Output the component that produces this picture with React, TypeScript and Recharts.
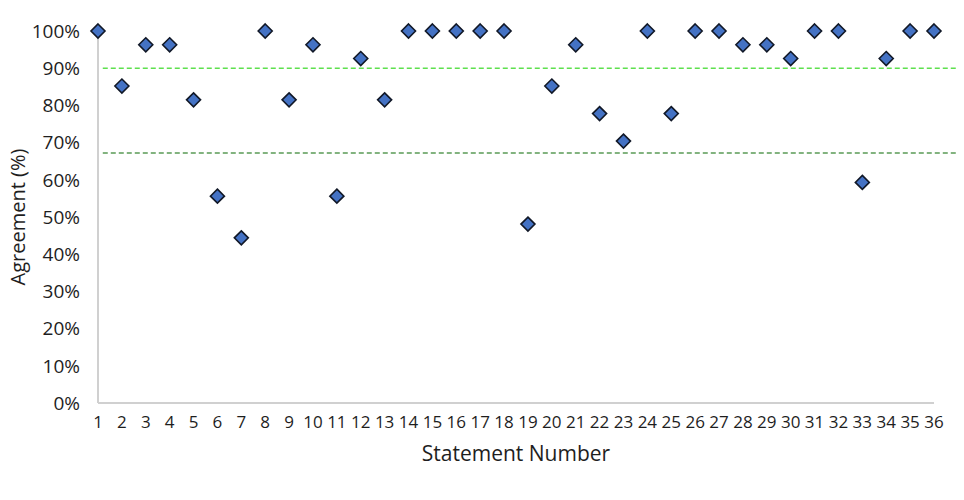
import React from "react";
import { ScatterChart, Scatter, XAxis, YAxis, ReferenceLine } from "recharts";

const statements = [1,2,3,4,5,6,7,8,9,10,11,12,13,14,15,16,17,18,19,20,21,22,23,24,25,26,27,28,29,30,31,32,33,34,35,36];
const agreement = [100,85.2,96.3,96.3,81.5,55.6,44.4,100,81.5,96.3,55.6,92.6,81.5,100,100,100,100,100,48.1,85.2,96.3,77.8,70.4,100,77.8,100,100,96.3,96.3,92.6,100,100,59.3,92.6,100,100];
const yTicks = [0,10,20,30,40,50,60,70,80,90,100];
const upperThreshold = 90;
const lowerThreshold = 67.2;

const data = statements.map((s, i) => ({ x: s, y: agreement[i] }));

const FONT = "'Open Sans', sans-serif";
const TEXT = "#1e1e1e";

const Diamond = (props: any) => {
  const { cx, cy } = props;
  const r = 7;
  return (
    <polygon
      points={`${cx},${cy - r} ${cx + r},${cy} ${cx},${cy + r} ${cx - r},${cy}`}
      fill="#4472C4"
      stroke="#111827"
      strokeWidth={1.6}
    />
  );
};

const YTitle = (props: any) => {
  const vb = props.viewBox || {};
  const x = 17;
  const y = (vb.y ?? 31) + (vb.height ?? 372) / 2;
  return (
    <text x={x} y={y} transform={`rotate(-90 ${x} ${y})`} textAnchor="middle" dominantBaseline="central" fill={TEXT} fontFamily={FONT} fontSize={20}>
      Agreement (%)
    </text>
  );
};

const XTitle = (props: any) => {
  const vb = props.viewBox || {};
  const x = (vb.x ?? 98) + (vb.width ?? 836) / 2;
  return (
    <text x={x} y={453} textAnchor="middle" dominantBaseline="central" fill={TEXT} fontFamily={FONT} fontSize={21}>
      Statement Number
    </text>
  );
};

export default function App() {
  return (
    <div style={{ position: "absolute", left: 0, top: 0, background: "#fff" }}>
      <ScatterChart width={964} height={500} margin={{ top: 31, right: 30, bottom: 67, left: 0 }}>
        <XAxis
          type="number"
          dataKey="x"
          domain={[1, 36]}
          ticks={statements}
          interval={0}
          height={30}
          allowDecimals={false}
          tickLine={false}
          axisLine={{ stroke: "#d0d0d0", strokeWidth: 2 }}
          tick={{ fill: TEXT, fontFamily: FONT, fontSize: 17 }}
          tickSize={0}
          tickMargin={13}
          label={<XTitle />}
        />
        <YAxis
          type="number"
          dataKey="y"
          domain={[0, 100]}
          ticks={yTicks}
          interval={0}
          width={98}
          tickLine={false}
          axisLine={{ stroke: "#d0d0d0", strokeWidth: 2 }}
          tickSize={0}
          tickMargin={18}
          tickFormatter={(v: number) => `${v}%`}
          tick={{ fill: TEXT, fontFamily: FONT, fontSize: 19 }}
          label={<YTitle />}
        />
        <ReferenceLine
          segment={[{ x: 1.2, y: upperThreshold }, { x: 37, y: upperThreshold }]}
          ifOverflow="visible"
          stroke="#5ee04e"
          strokeWidth={1.5}
          strokeDasharray="5 3"
        />
        <ReferenceLine
          segment={[{ x: 1.2, y: lowerThreshold }, { x: 37, y: lowerThreshold }]}
          ifOverflow="visible"
          stroke="#5a9a56"
          strokeWidth={1.5}
          strokeDasharray="5 3"
        />
        <Scatter data={data} shape={<Diamond />} isAnimationActive={false} />
      </ScatterChart>
    </div>
  );
}
